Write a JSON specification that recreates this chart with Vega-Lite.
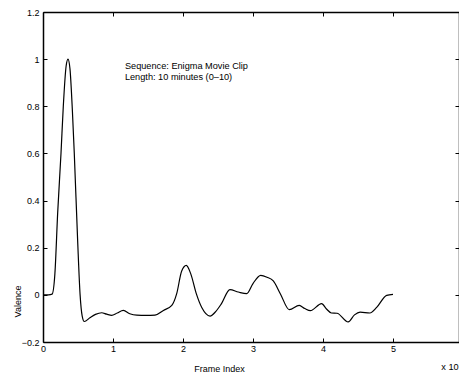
{
  "$schema": "https://vega.github.io/schema/vega-lite/v6.json",
  "width": 416,
  "height": 330,
  "autosize": {"type": "none"},
  "padding": {"left": 43, "top": 12, "right": 0, "bottom": 36},
  "background": "white",
  "config": {
    "view": {"stroke": null},
    "font": "Liberation Sans",
    "axis": {
      "grid": false,
      "domainColor": "black",
      "domainWidth": 1.5,
      "tickColor": "black",
      "tickSize": -4,
      "tickWidth": 1,
      "labelFlush": false,
      "labelOverlap": false,
      "labelFont": "Liberation Sans",
      "labelFontSize": 9,
      "labelColor": "black",
      "titleFont": "Liberation Sans",
      "titleFontSize": 9,
      "titleFontWeight": "normal",
      "titleColor": "black"
    }
  },
  "layer": [
    {
      "data": {
        "values": [
          {"frame": 0, "valence": 0},
          {"frame": 0.08, "valence": 0},
          {"frame": 0.13, "valence": 0.003},
          {"frame": 0.17, "valence": 0.09},
          {"frame": 0.21, "valence": 0.35},
          {"frame": 0.257, "valence": 0.6},
          {"frame": 0.29, "valence": 0.8},
          {"frame": 0.33, "valence": 0.97},
          {"frame": 0.357, "valence": 1.0},
          {"frame": 0.385, "valence": 0.96},
          {"frame": 0.42, "valence": 0.78},
          {"frame": 0.447, "valence": 0.6},
          {"frame": 0.495, "valence": 0.23},
          {"frame": 0.53, "valence": 0.0},
          {"frame": 0.56, "valence": -0.09},
          {"frame": 0.59, "valence": -0.113},
          {"frame": 0.67, "valence": -0.097},
          {"frame": 0.75, "valence": -0.083},
          {"frame": 0.838, "valence": -0.076},
          {"frame": 0.91, "valence": -0.082},
          {"frame": 0.98, "valence": -0.087},
          {"frame": 1.06, "valence": -0.077},
          {"frame": 1.148, "valence": -0.066},
          {"frame": 1.24, "valence": -0.08},
          {"frame": 1.34, "valence": -0.086},
          {"frame": 1.47, "valence": -0.087},
          {"frame": 1.6, "valence": -0.086},
          {"frame": 1.72, "valence": -0.066},
          {"frame": 1.84, "valence": -0.045},
          {"frame": 1.91, "valence": 0.005},
          {"frame": 1.98, "valence": 0.1},
          {"frame": 2.047, "valence": 0.125},
          {"frame": 2.11, "valence": 0.09},
          {"frame": 2.19, "valence": 0.005},
          {"frame": 2.27, "valence": -0.055},
          {"frame": 2.386, "valence": -0.09},
          {"frame": 2.47, "valence": -0.07},
          {"frame": 2.55, "valence": -0.037},
          {"frame": 2.67, "valence": 0.022},
          {"frame": 2.79, "valence": 0.012},
          {"frame": 2.91, "valence": 0.005},
          {"frame": 3.0, "valence": 0.048},
          {"frame": 3.11, "valence": 0.083},
          {"frame": 3.2, "valence": 0.075},
          {"frame": 3.29, "valence": 0.059},
          {"frame": 3.39, "valence": 0.005},
          {"frame": 3.52, "valence": -0.063},
          {"frame": 3.66, "valence": -0.045},
          {"frame": 3.74, "valence": -0.058},
          {"frame": 3.82, "valence": -0.067},
          {"frame": 3.98, "valence": -0.037},
          {"frame": 4.05, "valence": -0.06},
          {"frame": 4.12, "valence": -0.077},
          {"frame": 4.2, "valence": -0.078},
          {"frame": 4.36, "valence": -0.115},
          {"frame": 4.45, "valence": -0.085},
          {"frame": 4.53, "valence": -0.073},
          {"frame": 4.67, "valence": -0.077},
          {"frame": 4.77, "valence": -0.052},
          {"frame": 4.91, "valence": -0.002},
          {"frame": 5.0, "valence": 0.002}
        ]
      },
      "mark": {"type": "line", "interpolate": "monotone", "color": "black", "strokeWidth": 1.2},
      "encoding": {
        "x": {
          "field": "frame",
          "type": "quantitative",
          "scale": {"domain": [0, 5.943], "nice": false, "zero": false},
          "axis": {
            "orient": "bottom",
            "values": [0, 1, 2, 3, 4, 5],
            "labelPadding": 6,
            "title": "Frame Index",
            "titleX": 176,
            "titleY": 26,
            "titleAlign": "center",
            "titleBaseline": "middle"
          }
        },
        "y": {
          "field": "valence",
          "type": "quantitative",
          "scale": {"domain": [-0.2, 1.2], "nice": false, "zero": false},
          "axis": {
            "orient": "left",
            "values": [-0.2, 0, 0.2, 0.4, 0.6, 0.8, 1, 1.2],
            "format": ".1~f",
            "labelPadding": 8,
            "title": "Valence",
            "titleX": -26,
            "titleY": 289,
            "titleAlign": "center",
            "titleBaseline": "middle"
          }
        }
      }
    },
    {
      "data": {
        "values": [
          {"frame": 1.17, "valence": 0.97, "label": "Sequence: Enigma Movie Clip"},
          {"frame": 1.17, "valence": 0.925, "label": "Length: 10 minutes (0\u201310)"},
          {"frame": 5.69, "valence": -0.304, "label": "x 10"}
        ]
      },
      "mark": {"type": "text", "align": "left", "baseline": "middle", "fontSize": 9.2, "font": "Liberation Sans", "color": "black"},
      "encoding": {
        "x": {
          "field": "frame",
          "type": "quantitative",
          "scale": {"domain": [0, 5.943], "nice": false, "zero": false},
          "axis": {"orient": "top", "values": [0, 1, 2, 3, 4, 5], "labels": false, "title": null}
        },
        "y": {
          "field": "valence",
          "type": "quantitative",
          "scale": {"domain": [-0.2, 1.2], "nice": false, "zero": false},
          "axis": {"orient": "right", "values": [-0.2, 0, 0.2, 0.4, 0.6, 0.8, 1, 1.2], "labels": false, "title": null}
        },
        "text": {"field": "label"}
      }
    }
  ],
  "resolve": {"axis": {"x": "independent", "y": "independent"}}
}
